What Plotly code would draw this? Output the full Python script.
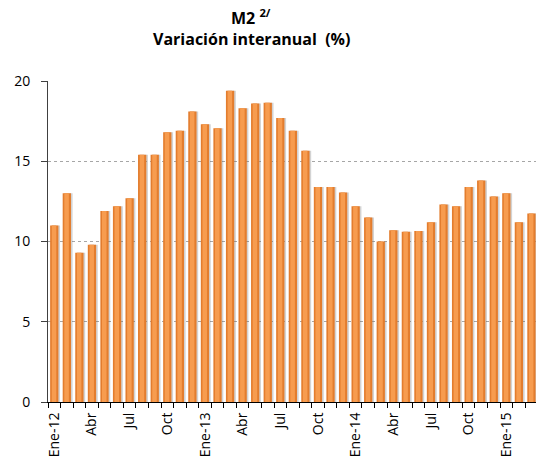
import plotly.graph_objects as go

# ---- data -----------------------------------------------------------------
categories = [
    "Ene-12", "Feb-12", "Mar-12", "Abr-12", "May-12", "Jun-12", "Jul-12", "Ago-12", "Sep-12", "Oct-12", "Nov-12", "Dic-12",
    "Ene-13", "Feb-13", "Mar-13", "Abr-13", "May-13", "Jun-13", "Jul-13", "Ago-13", "Sep-13", "Oct-13", "Nov-13", "Dic-13",
    "Ene-14", "Feb-14", "Mar-14", "Abr-14", "May-14", "Jun-14", "Jul-14", "Ago-14", "Sep-14", "Oct-14", "Nov-14", "Dic-14",
    "Ene-15", "Feb-15", "Mar-15", "Abr-15",
]
m2_values = [
    11.0, 13.0, 9.3, 9.8, 11.9, 12.2, 12.7, 15.4, 15.4, 16.8, 16.9, 18.1,
    17.3, 17.05, 19.4, 18.3, 18.6, 18.65, 17.7, 16.9, 15.65, 13.4, 13.4, 13.05,
    12.2, 11.5, 10.0, 10.7, 10.6, 10.65, 11.2, 12.3, 12.2, 13.4, 13.8, 12.8,
    13.0, 11.2, 11.75, 12.6,
]
label_categories = ["Ene-12", "Abr-12", "Jul-12", "Oct-12", "Ene-13", "Abr-13", "Jul-13", "Oct-13",
                    "Ene-14", "Abr-14", "Jul-14", "Oct-14", "Ene-15", "Abr-15"]
tick_labels = ["Ene-12", "Abr", "Jul", "Oct", "Ene-13", "Abr", "Jul", "Oct",
               "Ene-14", "Abr", "Jul", "Oct", "Ene-15", "Abr"]
y_ticks = [0, 5, 10, 15, 20]
title_line1 = "<b>M2 <sup>2/</sup></b>"
title_line2 = "<b>Variación interanual  (%)</b>"

label_map = dict(zip(label_categories, tick_labels))
tick_text = [label_map.get(c, "") for c in categories]

FONT = "Open Sans"

fig = go.Figure()
# soft shadow
fig.add_trace(go.Bar(x=categories, y=m2_values, width=0.68, offset=-0.22,
                     marker=dict(color="rgba(110,110,110,0.30)", line=dict(width=0)),
                     hoverinfo="skip", showlegend=False))
# bar body
fig.add_trace(go.Bar(x=categories, y=m2_values, width=0.66, offset=-0.33,
                     marker=dict(color="#E37D2E", line=dict(width=0)),
                     hoverinfo="skip", showlegend=False))
# highlight
fig.add_trace(go.Bar(x=categories, y=m2_values, width=0.36, offset=-0.2,
                     marker=dict(color="#F79C4F", line=dict(width=0)),
                     hoverinfo="skip", showlegend=False))

# the page body adds an 8px offset, so the figure is 8px smaller on each leading side
fig.update_layout(
    width=536, height=458,
    margin=dict(l=40, r=0, t=73, b=64, pad=0, autoexpand=False),
    paper_bgcolor="white", plot_bgcolor="white",
    barmode="overlay",
    font=dict(family=FONT, size=14, color="black"),
    annotations=[
        dict(text=title_line1, xref="paper", yref="paper", x=203 / 496, y=1.198,
             xanchor="center", yanchor="middle", showarrow=False,
             font=dict(family=FONT, size=16, color="black")),
        dict(text=title_line2, xref="paper", yref="paper", x=203 / 496, y=1.13,
             xanchor="center", yanchor="middle", showarrow=False,
             font=dict(family=FONT, size=16, color="black")),
    ],
    xaxis=dict(
        type="category", automargin=False,
        categoryorder="array", categoryarray=categories,
        range=[-0.5, 39.0],
        tickmode="array", tickvals=categories, ticktext=tick_text,
        tickson="boundaries",
        ticks="outside", ticklen=5, tickwidth=1, tickcolor="black",
        tickangle=-90,
        showline=True, linecolor="black", linewidth=1,
        showgrid=False, zeroline=False,
        tickfont=dict(family=FONT, size=14, color="black"),
        ticklabelstandoff=4,
    ),
    yaxis=dict(
        range=[0, 20], automargin=False,
        tickmode="array", tickvals=y_ticks,
        ticks="outside", ticklen=6, tickcolor="#404040",
        showline=True, linecolor="#404040", linewidth=1,
        showgrid=True, gridcolor="#A6A6A6", griddash="dot", gridwidth=1,
        zeroline=False,
        tickfont=dict(family=FONT, size=14, color="black"),
        ticklabelstandoff=8,
    ),
)

fig.write_html("out.html")
